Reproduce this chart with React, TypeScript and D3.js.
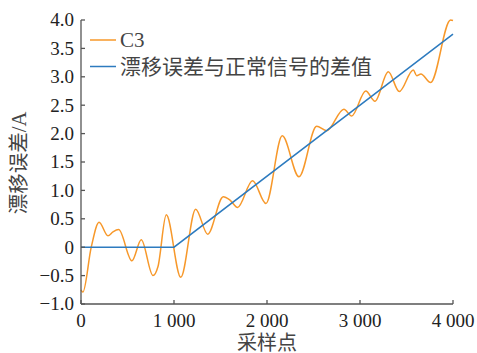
import React from 'react';
import { scaleLinear, line, curveMonotoneX } from 'd3';

const width = 477;
const height = 353;
const margin = { top: 20, right: 24, bottom: 49, left: 81 };

// C3 curve (sample index, error in A)
const c3X = [0, 20, 110, 194, 290, 344, 405, 548, 648, 774, 828, 917, 1073, 1233, 1362, 1530, 1602, 1684, 1845, 1989, 2164, 2344, 2534, 2641, 2827, 2910, 3062, 3161, 3304, 3422, 3573, 3609, 3655, 3759, 3974, 4000];
const c3Y = [-0.75, -0.79, 0, 0.44, 0.2, 0.27, 0.31, -0.24, 0.13, -0.5, -0.34, 0.57, -0.53, 0.67, 0.23, 0.89, 0.83, 0.7, 1.17, 0.77, 1.96, 1.24, 2.13, 2.05, 2.43, 2.31, 2.75, 2.57, 3.09, 2.74, 3.12, 3.02, 3.05, 2.9, 4.0, 3.99];

// drift vs normal signal
const driftX = [0, 1000, 4000];
const driftY = [0, 0, 3.75];

const xTicks = [0, 1000, 2000, 3000, 4000];
const xTickLabels = ['0', '1 000', '2 000', '3 000', '4 000'];
const yTicks = [4, 3.5, 3, 2.5, 2, 1.5, 1, 0.5, 0, -0.5, -1];
const yTickLabels = ['4.0', '3.5', '3.0', '2.5', '2.0', '1.5', '1.0', '0.5', '0', '\u22120.5', '\u22121.0'];

const seriesNames = ['C3', '漂移误差与正常信号的差值'];
const colors = ['#F7982A', '#2D7BBF'];

const serif = '"Liberation Serif", "Times New Roman", serif';
const cjk = '"Liberation Serif", "Noto Sans CJK SC", serif';

export default function App() {
  const innerWidth = width - margin.left - margin.right;
  const innerHeight = height - margin.top - margin.bottom;

  const xScale = scaleLinear().domain([0, 4000]).range([0, innerWidth]);
  const yScale = scaleLinear().domain([-1, 4]).range([innerHeight, 0]);

  const curve = line<number>()
    .x((d, i) => xScale(c3X[i]))
    .y(d => yScale(d))
    .curve(curveMonotoneX);

  const straight = line<number>()
    .x((d, i) => xScale(driftX[i]))
    .y(d => yScale(d));

  const axisColor = '#555';

  return (
    <svg width={width} height={height} style={{ position: 'absolute', left: 0, top: 0 }}>
      <rect width={width} height={height} fill="#fff" />
      <g transform={`translate(${margin.left},${margin.top})`}>
        <path d={curve(c3Y) || ''} fill="none" stroke={colors[0]} strokeWidth={1.5} />
        <path d={straight(driftY) || ''} fill="none" stroke={colors[1]} strokeWidth={1.5} />

        {/* axes */}
        <line x1={0} x2={0} y1={0} y2={innerHeight} stroke={axisColor} strokeWidth={1.3} />
        <line x1={0} x2={innerWidth} y1={innerHeight} y2={innerHeight} stroke={axisColor} strokeWidth={1.3} />
        {yTicks.map((t, i) => (
          <g key={t} transform={`translate(0,${yScale(t)})`}>
            <line x1={0} x2={4} stroke={axisColor} strokeWidth={1.3} />
            <text x={-7} dy="0.34em" textAnchor="end" fontFamily={serif} fontSize={19} fill="#222">
              {yTickLabels[i]}
            </text>
          </g>
        ))}
        {xTicks.map((t, i) => (
          <g key={t} transform={`translate(${xScale(t)},${innerHeight})`}>
            <line y1={0} y2={-4} stroke={axisColor} strokeWidth={1.3} />
            <text y={23} textAnchor="middle" fontFamily={serif} fontSize={19} fill="#222">
              {xTickLabels[i]}
            </text>
          </g>
        ))}

        {/* legend */}
        {seriesNames.map((name, i) => (
          <g key={name} transform={`translate(9,${20 + i * 26.5})`}>
            <line x1={0} x2={26} stroke={colors[i]} strokeWidth={1.5} />
            <text x={30} dy="0.34em" fontFamily={cjk} fontSize={21} fill="#444">
              {name}
            </text>
          </g>
        ))}
      </g>

      <text x={267} y={350} textAnchor="middle" fontFamily={cjk} fontSize={20} fill="#444">
        采样点
      </text>
      <text
        transform="translate(26,163) rotate(-90)"
        textAnchor="middle"
        fontFamily={cjk}
        fontSize={20.5}
        fill="#444"
      >
        漂移误差/A
      </text>
    </svg>
  );
}
